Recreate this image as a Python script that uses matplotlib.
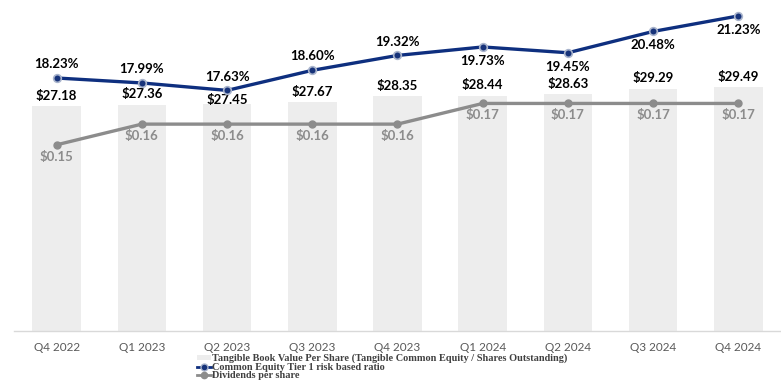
import matplotlib
matplotlib.use("Agg")
import matplotlib.pyplot as plt
from matplotlib.lines import Line2D
from matplotlib.patches import Patch

quarters = ["Q4 2022", "Q1 2023", "Q2 2023", "Q3 2023", "Q4 2023",
            "Q1 2024", "Q2 2024", "Q3 2024", "Q4 2024"]
tbvps = [27.18, 27.36, 27.45, 27.67, 28.35, 28.44, 28.63, 29.29, 29.49]
cet1 = [18.23, 17.99, 17.63, 18.60, 19.32, 19.73, 19.45, 20.48, 21.23]
dividends = [0.15, 0.16, 0.16, 0.16, 0.16, 0.17, 0.17, 0.17, 0.17]

cet1_label_side = ["above"] * 5 + ["below"] * 4
bar_label_offset = [7.5, 7.5, 3.0, 7.5, 7.5, 7.5, 7.5, 7.5, 7.5]

BAR_C = "#EDEDED"
NAVY = "#0E2F7F"
GREY = "#8C8C8C"
LBL_FONT = "Lato"

fig = plt.figure(figsize=(7.81, 3.91), dpi=100)
ax = fig.add_axes([14 / 781, 60 / 391, 1 - 14 / 781, 331 / 391])
ax2 = ax.twinx()
ax3 = ax.twinx()

x = list(range(len(quarters)))
ax.bar(x, tbvps, width=0.57, color=BAR_C, zorder=1)
ax.set_xlim(-0.5, 8.5)
ax.set_ylim(0, 40)
ax2.set_ylim(6, 22)
ax3.set_ylim(0.06, 0.22)

ax2.plot(x, cet1, color=NAVY, lw=2.4, marker="o", ms=5.5,
         mfc="#17337A", mec="#A9B4CC", mew=1.2, zorder=5)
ax3.plot(x, dividends, color=GREY, lw=2.4, marker="o", ms=5,
         mfc=GREY, mec=GREY, zorder=4)

for a in (ax, ax2, ax3):
    for s in a.spines.values():
        s.set_visible(False)
    a.set_yticks([])
ax.spines["bottom"].set_visible(True)
ax.spines["bottom"].set_color("#D9D9D9")
ax.spines["bottom"].set_linewidth(1.0)
ax.set_xticks(x)
ax.set_xticklabels(quarters, fontsize=8.5, color="#595959", family=LBL_FONT)
ax.tick_params(axis="x", length=0, pad=8)

for xi, v, off in zip(x, tbvps, bar_label_offset):
    ax.annotate(f"${v:.2f}", (xi, v), xytext=(0, off), textcoords="offset points",
                ha="center", va="center", fontsize=9.5, fontweight="bold",
                color="#000000", family=LBL_FONT, zorder=6)

for xi, v, side in zip(x, cet1, cet1_label_side):
    off = 10 if side == "above" else -10
    ax2.annotate(f"{v:.2f}%", (xi, v), xytext=(0, off), textcoords="offset points",
                 ha="center", va="center", fontsize=9.5, fontweight="bold",
                 color="#000000", family=LBL_FONT, zorder=6)

for xi, v in zip(x, dividends):
    ax3.annotate(f"${v:.2f}", (xi, v), xytext=(0, -8.5), textcoords="offset points",
                 ha="center", va="center", fontsize=9.5, fontweight="bold",
                 color=GREY, family=LBL_FONT, zorder=6)

handles = [
    Patch(facecolor=BAR_C, edgecolor="none"),
    Line2D([], [], color=NAVY, lw=2, marker="o", ms=5, mfc="#17337A", mec="#A9B4CC", mew=1.0),
    Line2D([], [], color=GREY, lw=2, marker="o", ms=4.5, mfc=GREY, mec=GREY),
]
labels = ["Tangible Book Value Per Share (Tangible Common Equity / Shares Outstanding)",
          "Common Equity Tier 1 risk based ratio",
          "Dividends per share"]
fig.legend(handles, labels, loc="upper left", bbox_to_anchor=(0.252, 0.095),
           frameon=False, handlelength=1.4, handleheight=0.5, handletextpad=0.1,
           labelspacing=-0.05, borderpad=0, borderaxespad=0,
           prop={"family": "Liberation Serif", "weight": "bold", "size": 7.4},
           labelcolor="#404040")

fig.savefig("out.png", dpi=100)
